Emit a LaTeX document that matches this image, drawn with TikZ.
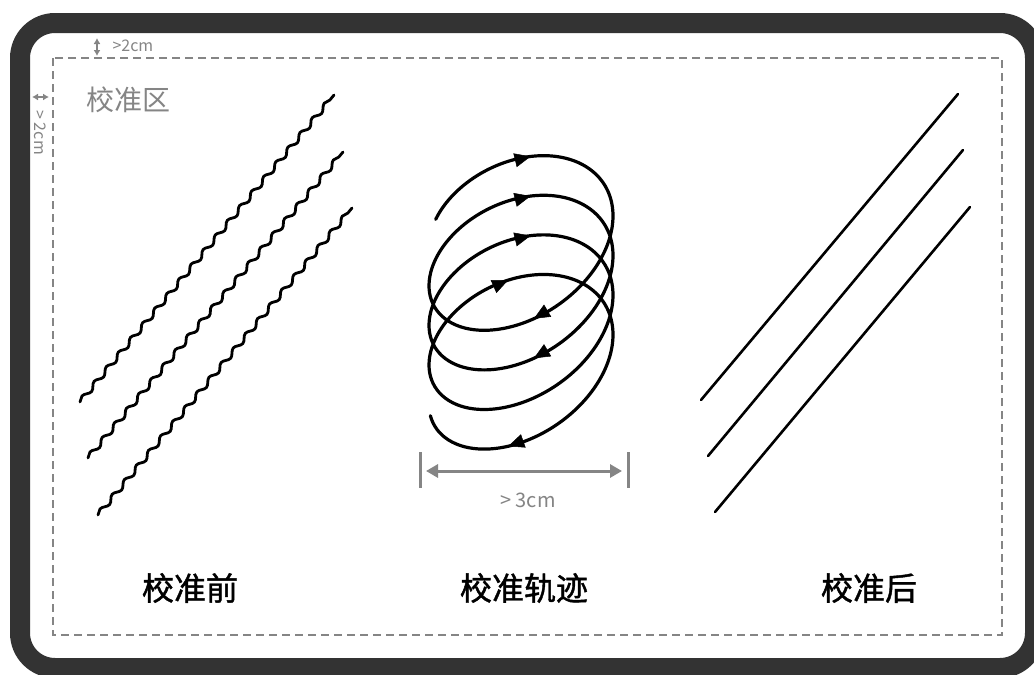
\documentclass[tikz,border=0pt]{standalone}
\usepackage{fontspec}
\setmainfont{Noto Sans CJK SC}
\newfontfamily\cjk{Noto Sans CJK SC}
\newfontfamily\cjkb[FakeBold=1.3]{Noto Sans CJK SC}
\usetikzlibrary{arrows.meta,decorations.pathmorphing}
\definecolor{framecol}{HTML}{333333}
\definecolor{dimgray}{HTML}{858585}
\tikzset{
  wavy/.style={line width=2.8pt, line cap=round, decorate, decoration={snake, amplitude=2.3pt, segment length=19pt}},
  straightline/.style={line width=2.6pt, line cap=round},
  spiral/.style={line width=3.2pt, line cap=round},
  spiraltip/.style={line width=0.5pt, -{Triangle[length=16pt,width=14pt]}},
  dimline/.style={dimgray, line width=3pt},
  smalldim/.style={dimgray, line width=2pt, {Latex[length=6pt,width=7pt]}-{Latex[length=6pt,width=7pt]}},
  biglabel/.style={font=\cjkb\fontsize{32}{34}\selectfont, text=black},
  graytext/.style={text=dimgray},
}
\begin{document}
\begin{tikzpicture}[x=1pt,y=-1pt,
  declare function={sx(\t)=521+92*sin(\t); sy(\t)=231+0.11*\t-73*cos(\t)-25*sin(\t);}]
\useasboundingbox (0,0) rectangle (1034,675);
\fill[white] (0,0) rectangle (1034,675);
% outer frame
\draw[framecol, line width=20pt, rounded corners=35pt] (20,23) rectangle (1035,668);
% dashed zone
\draw[dimgray, line width=1.8pt, dash pattern=on 8pt off 5pt] (53,58) rectangle (1002,635);
% margin marks
\coordinate (mt1) at (97,38); \coordinate (mt2) at (97,56);
\draw[smalldim] (mt1) -- (mt2);
\node[graytext, font=\fontsize{16}{18}\selectfont, anchor=west] (mtlabel) at (109,46) {>2cm};
\coordinate (ml1) at (32,97); \coordinate (ml2) at (49,97);
\draw[smalldim] (ml1) -- (ml2);
\node[graytext, font=\fontsize{16}{18}\selectfont, rotate=-90, anchor=west] (mllabel) at (40,107) {> 2cm};
\node[graytext, font=\cjk\fontsize{28}{30}\selectfont] (zone) at (128,100) {校准区};
% wavy lines
\coordinate (w1a) at (80,402); \coordinate (w1b) at (334,95);
\coordinate (w2a) at (88,458); \coordinate (w2b) at (343,152);
\coordinate (w3a) at (98,515); \coordinate (w3b) at (352,208);
\draw[wavy] (w1a) -- (w1b);
\draw[wavy] (w2a) -- (w2b);
\draw[wavy] (w3a) -- (w3b);
% straight lines
\coordinate (s1a) at (701,400); \coordinate (s1b) at (958,94);
\coordinate (s2a) at (708,456); \coordinate (s2b) at (963,150);
\coordinate (s3a) at (715,512); \coordinate (s3b) at (970,207);
\draw[straightline] (s1a) -- (s1b);
\draw[straightline] (s2a) -- (s2b);
\draw[straightline] (s3a) -- (s3b);
% spiral
\draw[spiral] plot[domain=-68:1340, samples=400, smooth, variable=\t] ({sx(\t)},{sy(\t)});
\foreach \t in {6,366,726,1072,172,532,1268} {
  \draw[spiraltip] ({sx(\t-18)},{sy(\t-18)}) -- ({sx(\t)},{sy(\t)});
}
% dimension
\coordinate (d1a) at (420,452); \coordinate (d1b) at (420,488);
\coordinate (d2a) at (628,452); \coordinate (d2b) at (628,488);
\draw[dimline] (d1a) -- (d1b);
\draw[dimline] (d2a) -- (d2b);
\coordinate (da) at (426,471); \coordinate (db) at (622,471);
\draw[dimline, {Triangle[length=12pt,width=13pt]}-{Triangle[length=12pt,width=13pt]}] (da) -- (db);
\node[graytext, font=\fontsize{20}{22}\selectfont] (dimlabel) at (528,500) {> 3cm};
% labels
\node[biglabel] (before) at (190,588) {校准前};
\node[biglabel] (track) at (524,588) {校准轨迹};
\node[biglabel] (after) at (869,588) {校准后};
\end{tikzpicture}
\end{document}
